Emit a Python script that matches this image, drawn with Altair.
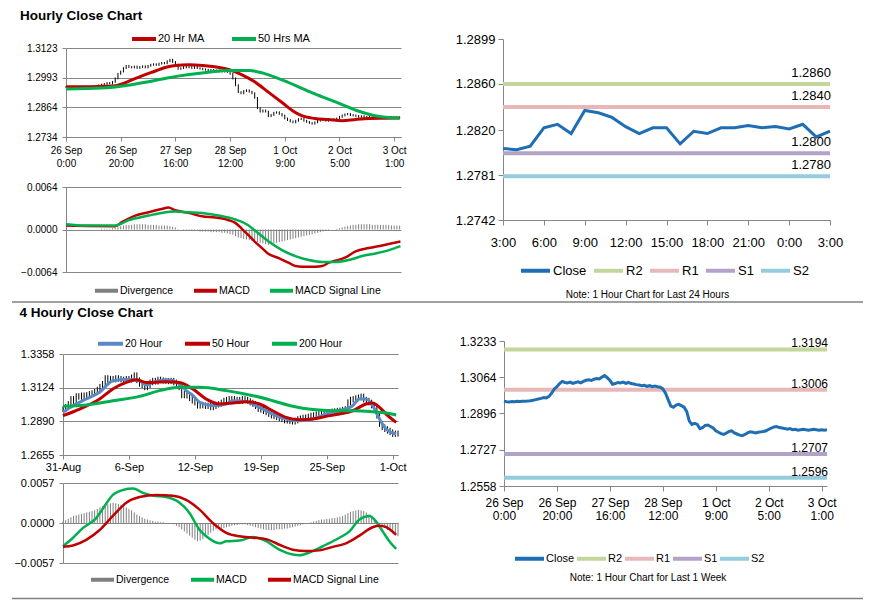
import json
import altair as alt
import pandas as pd

FONT = "Liberation Sans"
AX = "#868686"

# ================= Hourly close chart (one value per hourly bar) =================
hour_xlabels = [["26 Sep", "0:00"], ["26 Sep", "20:00"], ["27 Sep", "16:00"], ["28 Sep", "12:00"],
                ["1 Oct", "9:00"], ["2 Oct", "5:00"], ["3 Oct", "1:00"]]
hour_close = [1.2953, 1.2950, 1.2949, 1.2951, 1.2950, 1.2952, 1.2951, 1.2953, 1.2952, 1.2954, 1.2955, 1.2957, 1.2960,
              1.2963, 1.2966, 1.2970, 1.2968, 1.2975,
              1.2990, 1.3010, 1.3020, 1.3035, 1.3045, 1.3040, 1.3038, 1.3042, 1.3036, 1.3040, 1.3043, 1.3038, 1.3045,
              1.3050, 1.3052, 1.3049, 1.3055, 1.3058, 1.3056, 1.3065, 1.3072, 1.3062, 1.3050,
              1.3032, 1.3035, 1.3040, 1.3038, 1.3042, 1.3036, 1.3040, 1.3035, 1.3033, 1.3030, 1.3028, 1.3025, 1.3027,
              1.3022, 1.3025, 1.3020, 1.3023, 1.3020, 1.3018, 1.3010,
              1.2990, 1.2960, 1.2930, 1.2925, 1.2935, 1.2938, 1.2932, 1.2925, 1.2905, 1.2860, 1.2845, 1.2850, 1.2845,
              1.2825, 1.2830, 1.2840, 1.2842, 1.2835, 1.2828, 1.2815,
              1.2808, 1.2802, 1.2798, 1.2805, 1.2812, 1.2815, 1.2805, 1.2800, 1.2795, 1.2792, 1.2798, 1.2805, 1.2810,
              1.2808, 1.2805, 1.2808, 1.2810, 1.2812, 1.2815, 1.2822,
              1.2828, 1.2833, 1.2835, 1.2830, 1.2828, 1.2826, 1.2822, 1.2825, 1.2820, 1.2822, 1.2818, 1.2820, 1.2822,
              1.2820, 1.2818, 1.2820, 1.2822, 1.2820, 1.2818, 1.2820, 1.2818, 1.2820]
hour_ma20_at = [0, 6, 12, 18, 21, 25, 31, 37, 40, 45, 50, 55, 60, 64, 69, 74, 79, 83, 86, 91, 96, 101, 106, 111, 117, 122]
hour_ma20 = [1.2954, 1.2954, 1.2955, 1.2958, 1.2968, 1.2988, 1.3015, 1.3040, 1.3047, 1.3050, 1.3047, 1.3040, 1.3027,
             1.3008, 1.2975, 1.2930, 1.2885, 1.2848, 1.2828, 1.2815, 1.2810, 1.2805, 1.2811, 1.2815, 1.2816, 1.2817]
hour_ma50_at = [0, 13, 22, 29, 37, 45, 52, 59, 67, 72, 78, 84, 91, 99, 106, 113, 122]
hour_ma50 = [1.2944, 1.2948, 1.2959, 1.2973, 1.2992, 1.3007, 1.3017, 1.3025, 1.3025, 1.3013, 1.2988, 1.2959, 1.2922,
             1.2885, 1.2851, 1.2827, 1.2816]
# MACD values in units of 0.0001
hour_macd_at = [0, 18, 20.4, 25.3, 30.2, 35, 37.5, 39.9, 44.8, 49.7, 54.6, 59.5, 61.9, 64.3, 66.8, 69.2, 71.7, 74.1,
                77.8, 81.4, 83.9, 86.3, 91.2, 93.7, 96.1, 98.5, 102.2, 105.9, 110.7, 115.6, 122.3]
hour_macd = [6, 5, 11, 21, 26, 31, 33, 29, 25, 20, 18, 14, 10, 1, -9, -19, -28, -37, -43, -50, -55, -56, -56, -55, -50,
             -47, -42, -33, -28, -24, -18]
hour_signal_at = [0, 7, 18, 22.8, 30.2, 35, 39.9, 44.8, 49.7, 55.8, 61.9, 66.8, 69.2, 74.1, 79, 83.9, 88.8, 93.7, 98.5,
                  103.4, 108.3, 113.2, 118.1, 122.3]
hour_signal = [8, 6, 6, 14, 21, 25, 27, 26, 25, 21, 15, 6, -2, -18, -31, -40, -46, -49, -49, -46, -40, -36, -31, -25]
hour_div = [0, 0, 0, 0, 0, 0, 0, 0, 0, 0, 0, 0, 0, 1, 1, 1, 1, 2,
            3, 4, 5, 6, 7, 7, 7, 8, 8, 8, 8, 8, 7, 7, 7, 7, 6, 6, 6, 6, 5, 4, 3,
            1, 0, -1, -1, -1, -2, -2, -2, -3, -3, -3, -3, -4, -4, -4, -4, -5, -5, -6, -7,
            -8, -10, -12, -13, -14, -15, -16, -17, -18, -19, -20, -21, -22, -23, -22, -21, -20, -19, -18, -17, -16, -15,
            -14, -13, -12, -11, -10, -9, -8, -7, -6, -5, -4, -3, -2,
            -1, 0, 0, 1, 2, 3, 4, 5, 6, 7, 7, 8, 8, 8, 8, 8, 7, 7, 7, 7, 7, 7, 7, 6, 6, 6, 6]

# ================= Last 24 hours with pivot levels =================
day_xlabels = ["3:00", "6:00", "9:00", "12:00", "15:00", "18:00", "21:00", "0:00", "3:00"]
day_close = [1.2804, 1.2803, 1.2806, 1.2822, 1.2825, 1.2817, 1.2837, 1.2835, 1.2831, 1.2823, 1.2817, 1.2822, 1.2822,
             1.2808, 1.2819, 1.2817, 1.2822, 1.2822, 1.2824, 1.2822, 1.2823, 1.2821, 1.2825, 1.2814, 1.2819]
level_names = ["R2", "R1", "S1", "S2"]
day_levels = [1.2860, 1.2840, 1.2800, 1.2780]

# ================= 4 hourly close chart =================
h4_xlabels = ["31-Aug", "6-Sep", "12-Sep", "19-Sep", "25-Sep", "1-Oct"]
h4_close = [1.2975, 1.2990, 1.3010, 1.3045, 1.3030, 1.3065, 1.3060, 1.3070, 1.3062, 1.3072, 1.3080, 1.3085, 1.3095,
            1.3110, 1.3130, 1.3150, 1.3190, 1.3175, 1.3185, 1.3180, 1.3190, 1.3185, 1.3180, 1.3175, 1.3185, 1.3180,
            1.3195, 1.3210, 1.3175, 1.3150, 1.3140, 1.3126, 1.3140, 1.3160, 1.3172, 1.3165, 1.3180, 1.3175, 1.3172,
            1.3170, 1.3168, 1.3172, 1.3160, 1.3140, 1.3126, 1.3070, 1.3080, 1.3068, 1.3050, 1.3033, 1.3020, 1.2998,
            1.3005, 1.3000, 1.2995, 1.3000, 1.2987, 1.2995, 1.3005, 1.3010, 1.3020, 1.3033, 1.3040, 1.3045, 1.3045,
            1.3035, 1.3040, 1.3030, 1.3045, 1.3040, 1.3030, 1.3020, 1.3010, 1.2995, 1.2975, 1.2970, 1.2960, 1.2952,
            1.2940, 1.2929, 1.2925, 1.2918, 1.2910, 1.2905, 1.2895, 1.2894, 1.2890, 1.2887, 1.2895, 1.2905, 1.2910,
            1.2915, 1.2917, 1.2922, 1.2929, 1.2932, 1.2938, 1.2940, 1.2945, 1.2950, 1.2952, 1.2955, 1.2958, 1.2960,
            1.2963, 1.2965, 1.2970, 1.2975, 1.3022, 1.3040, 1.3045, 1.3050, 1.3056, 1.3062, 1.3040, 1.3033, 1.3020,
            1.3000, 1.2987, 1.2929, 1.2871, 1.2848, 1.2835, 1.2824, 1.2813, 1.2801, 1.2805, 1.2803]
h4_ma20_at = [0, 3.8, 8.8, 13.9, 18.9, 24, 29, 31.6, 34.1, 39.1, 44.2, 46.7, 49.2, 51.8, 56.8, 61.9, 64.4, 69.4, 74.5,
              79.5, 84.6, 89.6, 94.7, 99.7, 104.8, 109.8, 112.4, 114.9, 117.4, 120, 122.5, 126.3]
h4_ma20 = [1.2952, 1.2998, 1.3045, 1.3091, 1.3172, 1.3180, 1.3172, 1.3142, 1.3160, 1.3179, 1.3150, 1.3103, 1.3070,
           1.3022, 1.2998, 1.3010, 1.3033, 1.3026, 1.2987, 1.2940, 1.2905, 1.2894, 1.2905, 1.2940, 1.2963, 1.2998,
           1.3045, 1.3045, 1.2998, 1.2905, 1.2836, 1.2801]
h4_ma50_at = [0, 6.3, 13.9, 18.9, 24, 27.8, 31.6, 34.1, 39.1, 44.2, 49.2, 54.3, 59.3, 64.4, 69.4, 74.5, 79.5, 84.6,
              89.6, 94.7, 99.7, 104.8, 109.8, 114.9, 117.4, 120, 122.5, 126.3]
h4_ma50 = [1.2929, 1.2975, 1.3045, 1.3114, 1.3160, 1.3179, 1.3160, 1.3160, 1.3165, 1.3160, 1.3114, 1.3045, 1.3010,
           1.3017, 1.3026, 1.3010, 1.2963, 1.2917, 1.2901, 1.2905, 1.2924, 1.2940, 1.2963, 1.3010, 1.3017, 1.2987,
           1.2940, 1.2882]
h4_ma200_at = [0, 8.8, 18.9, 29, 36.6, 44.2, 51.8, 61.9, 72, 79.5, 87.1, 94.7, 102.3, 109.8, 117.4, 122.5, 126.3]
h4_ma200 = [1.2994, 1.3003, 1.3033, 1.3063, 1.3103, 1.3126, 1.3126, 1.3103, 1.3068, 1.3033, 1.2994, 1.2971, 1.2963,
            1.2963, 1.2956, 1.2947, 1.2933]
h4_macd_at = [0, 3.8, 7.6, 12.6, 15.2, 18.9, 22.7, 26.5, 30.3, 34.1, 39.1, 44.2, 48, 51.8, 54.3, 59.3, 61.9, 66.9, 72,
              77, 82, 87.1, 89.6, 94.7, 99.7, 104.8, 108.6, 112.4, 116.2, 118.7, 121.2, 123.7, 126.3]
h4_macd = [-33, -21, -7, 7, 21, 40, 47, 49, 43, 39, 37, 29, 14, -10, -19, -29, -26, -25, -20, -26, -38, -45, -46, -40,
           -31, -21, -12, 5, 10, 2, -12, -26, -37]
h4_signal_at = [0, 3.8, 8.8, 13.9, 18.9, 24, 29, 35.4, 41.7, 46.7, 51.8, 56.8, 61.9, 66.9, 72, 77, 82, 87.1, 92.2,
                97.2, 102.3, 107.3, 112.4, 117.4, 120, 122.5, 126.3]
h4_signal = [-34, -32, -24, -10, 10, 29, 37, 40, 39, 33, 19, 0, -14, -19, -21, -23, -31, -38, -40, -39, -34, -29, -18,
             -6, -4, -6, -17]
h4_div = [2, 4, 6, 8, 10, 11, 12, 13, 14, 15, 16, 17, 18, 20, 22, 24, 26, 27, 28, 29, 28, 27, 26, 24, 22, 20,
          18, 15, 12, 10, 8, 6, 5, 4, 3, 2, 2, 1, 1, 0, 0, -1, -2, -4, -6, -9, -12, -15, -18, -21, -24, -26, -25, -23,
          -20, -17, -14, -11, -9, -8, -8, -7, -6, -5, -4, -3, -3, -2, -2, -2, -3, -4, -5, -6, -7, -8, -9,
          -10, -10, -10, -10, -9, -9, -9, -8, -8, -7, -6, -5, -4, -3, -2, -1, 0, 1, 2, 3,
          4, 5, 5, 6, 6, 7, 7, 8, 9, 10, 12, 14, 16, 17, 18, 19, 18, 17, 15, 12, 9, 5, 2, -1, -4,
          -7, -10, -12, -15, -17, -19]

# ================= Last week with pivot levels =================
week_levels = [1.3194, 1.3006, 1.2707, 1.2596]

LEVEL_COLORS = ["#1F6EB4", "#C3D69B", "#E6B9B8", "#B3A2C7", "#93CDDD"]


# ---------------- helpers ----------------
def num_axis(values, fs, grid, tick=4, pad=5):
    return alt.Axis(values=values, format=".4f", title=None, grid=grid, gridColor=AX, gridOpacity=1,
                    domainColor=AX, tickColor=AX, tickSize=tick, labelFontSize=fs, labelFont=FONT,
                    labelColor="black", labelPadding=pad, labelOverlap=False, labelFlush=False)


def cat_axis(labels, step, fs, tick=4, pad=2, lh=None, note=None, nx=0, ny=0, nfs=10):
    kw = {}
    if lh:
        kw["labelLineHeight"] = lh
    if note:
        kw.update(title=note, titleX=nx, titleY=ny, titleFontSize=nfs, titleFontWeight="normal",
                  titleFont=FONT, titleColor="black", titleAlign="center", titleBaseline="middle")
    else:
        kw["title"] = None
    return alt.Axis(values=[i * step for i in range(len(labels))],
                    labelExpr=json.dumps(labels) + "[round(datum.value / %d)]" % step,
                    grid=False, domainColor=AX, tickColor=AX, tickSize=tick,
                    labelFontSize=fs, labelFont=FONT, labelColor="black", labelPadding=pad,
                    labelOverlap=False, labelFlush=False, **kw)


def legend(x, y, fs, size, colpad, loff, sw=4):
    return alt.Legend(orient="none", legendX=x, legendY=y, direction="horizontal", title=None,
                      symbolType="stroke", symbolSize=size, symbolStrokeWidth=sw, symbolOpacity=1,
                      labelFontSize=fs, labelFont=FONT, labelColor="black", columnPadding=colpad,
                      labelOffset=loff, padding=0, labelLimit=0)


def series_df(sets, scale=1.0):
    rows = []
    for name, at, vals in sets:
        rows += [{"s": name, "i": a, "v": v * scale} for a, v in zip(at, vals)]
    return pd.DataFrame(rows)


def price_panel(close, sets, colors, xdom, ydom, xax, yax, leg, wick, w, h):
    df = pd.DataFrame({"i": list(range(len(close))), "close": close})
    xs = alt.Scale(domain=xdom, nice=False, zero=False)
    ys = alt.Scale(domain=ydom, nice=False, zero=False)
    bars = alt.Chart(df).transform_window(
        window=[alt.WindowFieldDef(op="lag", field="close", param=1, **{"as": "prev"})],
        sort=[alt.SortField(field="i", order="ascending")],
    ).transform_calculate(
        o="isValid(datum.prev) ? datum.prev : datum.close"
    ).transform_calculate(
        hi="max(datum.o, datum.close) + %f" % wick,
        lo="min(datum.o, datum.close) - %f" % wick,
    ).mark_rule(color="black", strokeWidth=1).encode(
        x=alt.X("i:Q", scale=xs, axis=xax),
        y=alt.Y("hi:Q", scale=ys, axis=yax),
        y2="lo:Q",
    )
    cs = alt.Scale(domain=[s[0] for s in sets], range=colors)
    lines = alt.Chart(series_df(sets)).mark_line(strokeWidth=3, interpolate="monotone").encode(
        x=alt.X("i:Q", scale=xs, axis=xax),
        y=alt.Y("v:Q", scale=ys, axis=yax),
        color=alt.Color("s:N", scale=cs, legend=leg),
    )
    return alt.layer(bars, lines).properties(width=w, height=h)


def macd_panel(div, sets, colors, xdom, ylim, yax, leg, w, h):
    xs = alt.Scale(domain=xdom, nice=False, zero=False)
    ys = alt.Scale(domain=[-ylim, ylim], nice=False, zero=False)
    names = ["Divergence"] + [s[0] for s in sets]
    cs = alt.Scale(domain=names, range=colors)
    ddf = pd.DataFrame({"i": list(range(len(div))), "v": [d / 10000 for d in div], "s": "Divergence"})
    bars = alt.Chart(ddf).mark_rule(strokeWidth=1).encode(
        x=alt.X("i:Q", scale=xs, axis=None),
        y=alt.Y("v:Q", scale=ys, axis=yax),
        y2=alt.datum(0),
        color=alt.Color("s:N", scale=cs, legend=leg),
    )
    lines = alt.Chart(series_df(sets, 1 / 10000)).mark_line(strokeWidth=2.5, interpolate="monotone").encode(
        x=alt.X("i:Q", scale=xs, axis=None),
        y=alt.Y("v:Q", scale=ys, axis=yax),
        color=alt.Color("s:N", scale=cs, legend=leg),
    )
    return alt.layer(bars, lines).properties(width=w, height=h)


def level_panel(close, levels, xdom, ydom, xax, yax, leg, lfs, ldx, ldy, w, h):
    xs = alt.Scale(domain=xdom, nice=False, zero=False)
    ys = alt.Scale(domain=ydom, nice=False, zero=False)
    cs = alt.Scale(domain=["Close"] + level_names, range=LEVEL_COLORS)
    cdf = pd.DataFrame({"i": list(range(len(close))), "v": close, "s": "Close"})
    ldf = pd.DataFrame({"s": level_names, "v": levels, "t": ["%.4f" % v for v in levels]})
    rules = alt.Chart(ldf).mark_rule(strokeWidth=4).encode(
        y=alt.Y("v:Q", scale=ys, axis=yax),
        color=alt.Color("s:N", scale=cs, legend=leg),
    )
    line = alt.Chart(cdf).mark_line(strokeWidth=3).encode(
        x=alt.X("i:Q", scale=xs, axis=xax),
        y=alt.Y("v:Q", scale=ys, axis=yax),
        color=alt.Color("s:N", scale=cs, legend=leg),
    )
    text = alt.Chart(ldf).mark_text(align="right", baseline="bottom", dx=ldx, dy=ldy, fontSize=lfs, font=FONT,
                                    color="black").encode(
        x=alt.X(datum=xdom[1], scale=xs, axis=xax),
        y=alt.Y("v:Q", scale=ys, axis=yax),
        text="t:N",
    )
    return alt.layer(rules, line, text).properties(width=w, height=h)


def spacer():
    return alt.Chart(pd.DataFrame({"k": [0]})).mark_rule(opacity=0).encode(
        x=alt.value(0), y=alt.value(0)).properties(width=1, height=1)


def separator(h, y):
    return alt.Chart(pd.DataFrame({"k": [0]})).mark_rule(color="#808080", strokeWidth=1.5).encode(
        x=alt.value(3), x2=alt.value(854), y=alt.value(y)).properties(width=851, height=h)


def row_title(text, dx, offset):
    return alt.TitleParams(text, anchor="start", fontSize=13.5, fontWeight="bold", font=FONT, color="black",
                           offset=offset, dx=dx, frame="bounds")


IND = dict(color="independent")

# ---------------- row 1 ----------------
price1 = price_panel(
    hour_close, [("20 Hr MA", hour_ma20_at, hour_ma20), ("50 Hrs MA", hour_ma50_at, hour_ma50)],
    ["#C00000", "#00B050"], [0, 122.5], [1.2734, 1.3123],
    cat_axis(hour_xlabels, 20, 10, pad=4, lh=13),
    num_axis([1.2734, 1.2864, 1.2993, 1.3123], 10, True),
    legend(64, -23, 11, 576, 19, 0), 0.0004, 335, 89)
macd1 = macd_panel(
    hour_div, [("MACD", hour_macd_at, hour_macd), ("MACD Signal Line", hour_signal_at, hour_signal)],
    ["#7F7F7F", "#C00000", "#00B050"], [0, 122.5], 0.0064,
    num_axis([-0.0064, 0.0, 0.0064], 10, True),
    legend(27, 90, 10.5, 529, 12, 0), 335, 85)
left1 = alt.vconcat(
    spacer(),
    alt.vconcat(price1, macd1, spacing=50, bounds="flush").resolve_scale(**IND),
    spacing=-17).resolve_scale(**IND)
right1 = level_panel(
    day_close, day_levels, [0, 24], [1.2742, 1.2899],
    cat_axis(day_xlabels, 3, 13, tick=5, pad=11, note="Note: 1 Hour Chart for Last 24 Hours", nx=144, ny=74),
    num_axis([1.2742, 1.2781, 1.2820, 1.2860, 1.2899], 13, False, tick=5, pad=3),
    legend(16, 215, 13, 841, -1, 1), 13, 1, -4, 327, 181)
row1 = alt.hconcat(
    spacer(),
    alt.hconcat(left1, right1, spacing=47, title=row_title("Hourly Close Chart", 0, 2.5)).resolve_scale(**IND),
    spacing=9).resolve_scale(**IND)

# ---------------- row 2 ----------------
price4 = price_panel(
    h4_close, [("20 Hour", h4_ma20_at, h4_ma20), ("50 Hour", h4_ma50_at, h4_ma50),
               ("200 Hour", h4_ma200_at, h4_ma200)],
    ["#5A8AC6", "#C00000", "#00B050"], [0, 127], [1.2655, 1.3358],
    cat_axis(h4_xlabels, 25, 11),
    num_axis([1.2655, 1.2890, 1.3124, 1.3358], 11, True),
    legend(33, -25, 10.5, 625, 14, 0), 0.002, 335, 101)
macd4 = macd_panel(
    h4_div, [("MACD", h4_macd_at, h4_macd), ("MACD Signal Line", h4_signal_at, h4_signal)],
    ["#7F7F7F", "#00B050", "#C00000"], [0, 127], 0.0057,
    num_axis([-0.0057, 0.0, 0.0057], 11, True),
    legend(26, 83, 10.5, 529, 13, 0), 335, 80)
left2 = alt.vconcat(
    spacer(),
    alt.vconcat(price4, macd4, spacing=28, bounds="flush").resolve_scale(**IND),
    spacing=-15).resolve_scale(**IND)
right2 = level_panel(
    hour_close, week_levels, [0, 122], [1.2558, 1.3233],
    cat_axis(hour_xlabels, 20, 12, tick=5, pad=6.5, lh=13, note="Note: 1 Hour Chart for  Last 1 Week",
             nx=143.5, ny=91),
    num_axis([1.2558, 1.2727, 1.2896, 1.3064, 1.3233], 12, False, tick=5, pad=3),
    legend(9, 201, 11, 841, -9, 0), 12, 1, 1, 323, 145)
row2 = alt.hconcat(
    spacer(),
    alt.hconcat(left2, right2, spacing=51, title=row_title("4 Hourly Close Chart", 6, 9.5)).resolve_scale(**IND),
    spacing=2).resolve_scale(**IND)

chart = alt.vconcat(row1, separator(2.5, 0), row2, separator(10, 8.5), spacing=0).resolve_scale(**IND).properties(
    padding={"left": 0, "top": 0, "right": 0, "bottom": 0}
).configure(font=FONT).configure_view(stroke="transparent")

chart.save("out.html", embed_options={"renderer": "svg", "actions": False})
